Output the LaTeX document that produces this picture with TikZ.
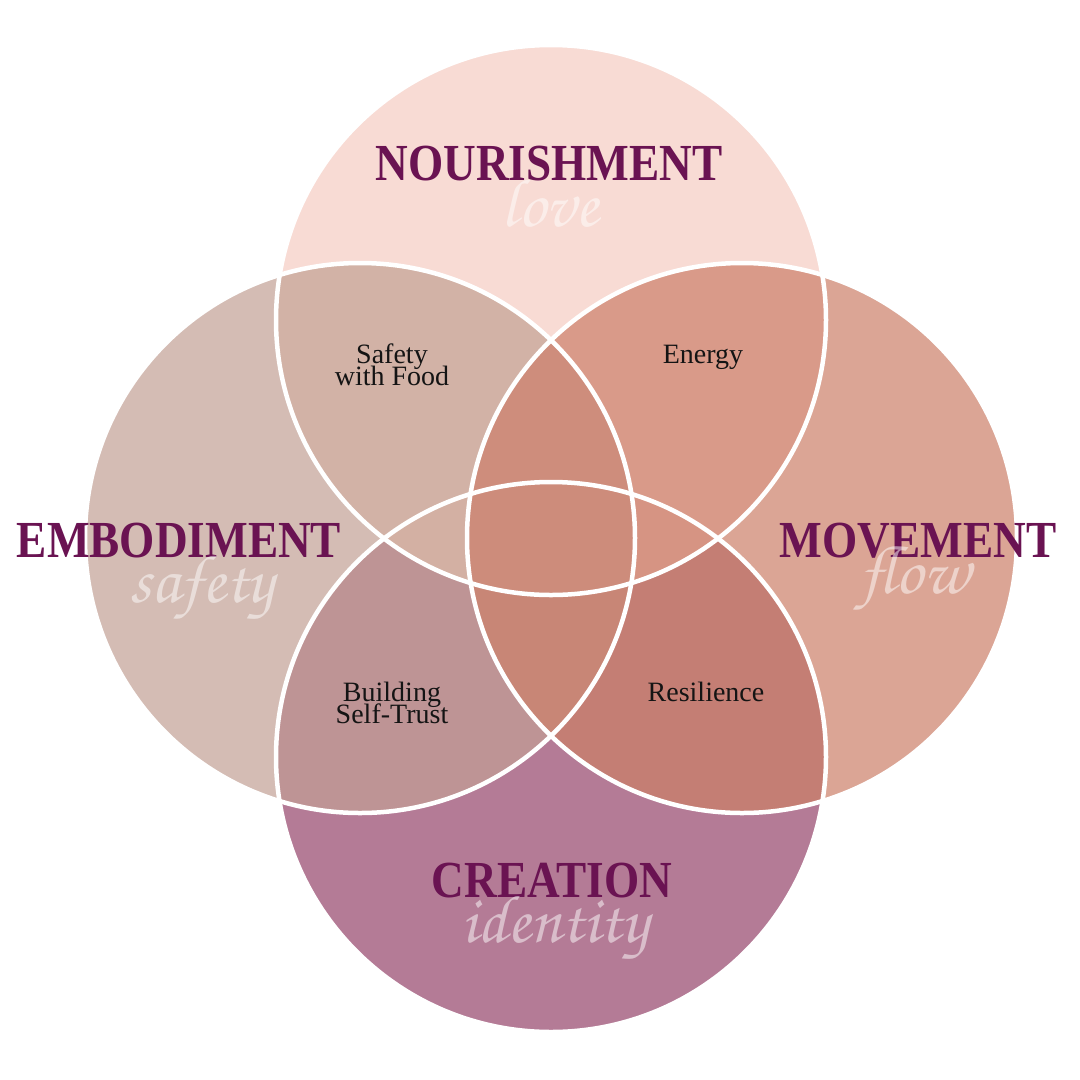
\documentclass[tikz,border=0pt]{standalone}
\usepackage{fontspec}
\usepackage{graphicx}
\setmainfont{Liberation Serif}
\newfontfamily\scriptfnt{texgyrechorus-mediumitalic.otf}
\definecolor{cN}{HTML}{F8DBD4}
\definecolor{cW}{HTML}{D4BCB4}
\definecolor{cE}{HTML}{DBA595}
\definecolor{cS}{HTML}{B47B96}
\definecolor{cNW}{HTML}{D2B2A6}
\definecolor{cNE}{HTML}{D99A89}
\definecolor{cWS}{HTML}{BE9495}
\definecolor{cES}{HTML}{C47E74}
\definecolor{cNSW}{HTML}{D3B0A3}
\definecolor{cNSE}{HTML}{D69483}
\definecolor{cNWE}{HTML}{CE8D7C}
\definecolor{cSWE}{HTML}{C88676}
\definecolor{cAll}{HTML}{CD8C7B}
\definecolor{headc}{HTML}{6A1352}
\def\circR{275pt}
\def\tightlbl{\lineskiplimit=-100pt\relax}
\tikzset{
  heading/.style={text=headc, font=\fontsize{52}{52}\selectfont\bfseries, anchor=base, inner sep=0pt},
  scriptw/.style={text=white, text opacity=0.5, font=\scriptfnt\fontsize{68}{68}\selectfont, inner sep=0pt},
  lbl/.style={text=black!92, font=\fontsize{28}{22}\selectfont\tightlbl, align=center, inner sep=0pt},
  whiteline/.style={draw=white, line width=4.5pt}
}
\begin{document}
\begin{tikzpicture}[x=1pt,y=-1pt]
\useasboundingbox (0,0) rectangle (1080,1080);
\fill[white] (0,0) rectangle (1080,1080);
\coordinate (N) at (551,320);
\coordinate (S) at (551,757);
\coordinate (W) at (360,538);
\coordinate (E) at (742,538);
% base circles
\fill[cN] (N) circle[radius=\circR];
\fill[cW] (W) circle[radius=\circR];
\fill[cE] (E) circle[radius=\circR];
\fill[cS] (S) circle[radius=\circR];
% pairwise
\begin{scope}\clip (N) circle[radius=\circR]; \fill[cNW] (W) circle[radius=\circR];\end{scope}
\begin{scope}\clip (N) circle[radius=\circR]; \fill[cNE] (E) circle[radius=\circR];\end{scope}
\begin{scope}\clip (S) circle[radius=\circR]; \fill[cWS] (W) circle[radius=\circR];\end{scope}
\begin{scope}\clip (S) circle[radius=\circR]; \fill[cES] (E) circle[radius=\circR];\end{scope}
% triples
\begin{scope}\clip (N) circle[radius=\circR]; \clip (S) circle[radius=\circR]; \fill[cNSW] (W) circle[radius=\circR];\end{scope}
\begin{scope}\clip (N) circle[radius=\circR]; \clip (S) circle[radius=\circR]; \fill[cNSE] (E) circle[radius=\circR];\end{scope}
\begin{scope}\clip (W) circle[radius=\circR]; \clip (E) circle[radius=\circR]; \fill[cNWE] (N) circle[radius=\circR];\end{scope}
\begin{scope}\clip (W) circle[radius=\circR]; \clip (E) circle[radius=\circR]; \fill[cSWE] (S) circle[radius=\circR];\end{scope}
% all four
\begin{scope}\clip (W) circle[radius=\circR]; \clip (E) circle[radius=\circR]; \clip (N) circle[radius=\circR]; \fill[cAll] (S) circle[radius=\circR];\end{scope}
% white outlines
\draw[whiteline] (N) circle[radius=\circR];
\draw[whiteline] (W) circle[radius=\circR];
\draw[whiteline] (E) circle[radius=\circR];
\draw[whiteline] (S) circle[radius=\circR];
% headings
\node[heading] (hN) at (549,180) {\scalebox{0.87}[1]{NOURISHMENT}};
\node[heading] (hW) at (179,557) {\scalebox{0.87}[1]{EMBODIMENT}};
\node[heading] (hE) at (918,557) {\scalebox{0.87}[1]{MOVEMENT}};
\node[heading] (hS) at (552,897) {\scalebox{0.87}[1]{CREATION}};
% script words
\node[scriptw] (sN) at (550,204) {love};
\node[scriptw] (sW) at (202,588) {safety};
\node[scriptw] (sE) at (915,578) {flow};
\node[scriptw] (sS) at (555,928) {identity};
% labels
\node[lbl] (l1) at (392,364.5) {Safety\\with Food};
\node[lbl, anchor=base] (l2) at (703,363) {Energy};
\node[lbl] (l3) at (392,703) {Building\\Self-Trust};
\node[lbl, anchor=base] (l4) at (706,701) {Resilience};
\end{tikzpicture}
\end{document}
